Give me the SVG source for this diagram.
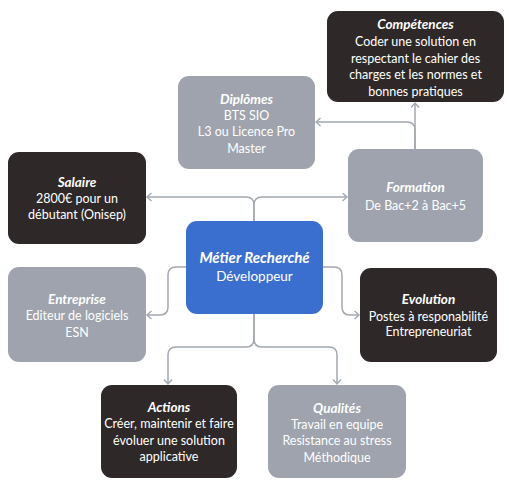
<svg xmlns="http://www.w3.org/2000/svg" width="509" height="490" viewBox="0 0 509 490">
<defs>
<style>
.dark{fill:#2e2928}
.grey{fill:#9ea3ad}
.blue{fill:#3b6fcf}
text{font-family:"Lato","Liberation Sans",sans-serif;font-size:12.5px;fill:#ffffff;text-anchor:middle}
.t{font-weight:bold;font-style:italic;font-size:13.5px}
.mt{font-size:15px}
.ms{font-size:13.5px}
.c{fill:none;stroke:#a3a8b1;stroke-width:1.5}
</style>
<marker id="ah" markerUnits="userSpaceOnUse" markerWidth="10" markerHeight="10" refX="6" refY="4.5" orient="auto">
<path d="M1.5,0.5 L6,4.5 L1.5,8.5" fill="none" stroke="#a3a8b1" stroke-width="1.4"/>
</marker>
</defs>
<rect width="509" height="490" fill="#ffffff"/>
<g id="connectors">
<path class="c" d="M254,221 V205 Q254,197 246,197 H147" marker-end="url(#ah)"/>
<path class="c" d="M254,221 V205 Q254,197 262,197 H347" marker-end="url(#ah)"/>
<path class="c" d="M415,149 V103" marker-end="url(#ah)"/>
<path class="c" d="M415,149 V130 Q415,122 407,122 H316" marker-end="url(#ah)"/>
<path class="c" d="M186,267 H176 Q168,267 168,275 V307 Q168,315 160,315 H147" marker-end="url(#ah)"/>
<path class="c" d="M323,267 H334 Q342,267 342,275 V307 Q342,315 350,315 H359" marker-end="url(#ah)"/>
<path class="c" d="M254,314 V339 Q254,347 246,347 H176 Q168,347 168,355 V384" marker-end="url(#ah)"/>
<path class="c" d="M254,314 V339 Q254,347 262,347 H329 Q337,347 337,355 V384" marker-end="url(#ah)"/>
</g>
<g id="competences">
<rect class="dark" x="327" y="11" width="177" height="91" rx="11"/>
<text class="t" x="415.5" y="29">Compétences</text>
<text x="415.5" y="46">Coder une solution en</text>
<text x="415.5" y="62.5">respectant le cahier des</text>
<text x="415.5" y="79">charges et les normes et</text>
<text x="415.5" y="95.5">bonnes pratiques</text>
</g>
<g id="diplomes">
<rect class="grey" x="178" y="76" width="137" height="93" rx="11"/>
<text class="t" x="246.5" y="103.5">Diplômes</text>
<text x="246.5" y="119.5">BTS SIO</text>
<text x="246.5" y="136">L3 ou Licence Pro</text>
<text x="246.5" y="152.5">Master</text>
</g>
<g id="formation">
<rect class="grey" x="348" y="149" width="135" height="93" rx="11"/>
<text class="t" x="415.5" y="191.5">Formation</text>
<text x="415.5" y="209.5">De Bac+2 à Bac+5</text>
</g>
<g id="salaire">
<rect class="dark" x="8" y="152" width="138" height="92" rx="11"/>
<text class="t" x="77" y="186.5">Salaire</text>
<text x="77" y="202.5">2800€ pour un</text>
<text x="77" y="218.5">débutant (Onisep)</text>
</g>
<g id="metier">
<rect class="blue" x="186" y="221" width="137" height="93" rx="11"/>
<text class="t mt" x="254.5" y="263">Métier Recherché</text>
<text class="ms" x="254.5" y="281">Développeur</text>
</g>
<g id="entreprise">
<rect class="grey" x="8" y="267" width="138" height="95" rx="11"/>
<text class="t" x="77" y="303.5">Entreprise</text>
<text x="77" y="319.5">Editeur de logiciels</text>
<text x="77" y="336.5">ESN</text>
</g>
<g id="evolution">
<rect class="dark" x="360" y="268" width="137" height="94" rx="11"/>
<text class="t" x="428.5" y="303.5">Evolution</text>
<text x="428.5" y="320.5">Postes à responabilité</text>
<text x="428.5" y="336">Entrepreneuriat</text>
</g>
<g id="actions">
<rect class="dark" x="101" y="385" width="136" height="93" rx="11"/>
<text class="t" x="169" y="411.5">Actions</text>
<text x="169" y="427.5">Créer, maintenir et faire</text>
<text x="169" y="444.5">évoluer une solution</text>
<text x="169" y="460.5">applicative</text>
</g>
<g id="qualites">
<rect class="grey" x="268" y="385" width="138" height="93" rx="11"/>
<text class="t" x="337" y="412.5">Qualités</text>
<text x="337" y="428.5">Travail en equipe</text>
<text x="337" y="445">Resistance au stress</text>
<text x="337" y="461.5">Méthodique</text>
</g>
</svg>
